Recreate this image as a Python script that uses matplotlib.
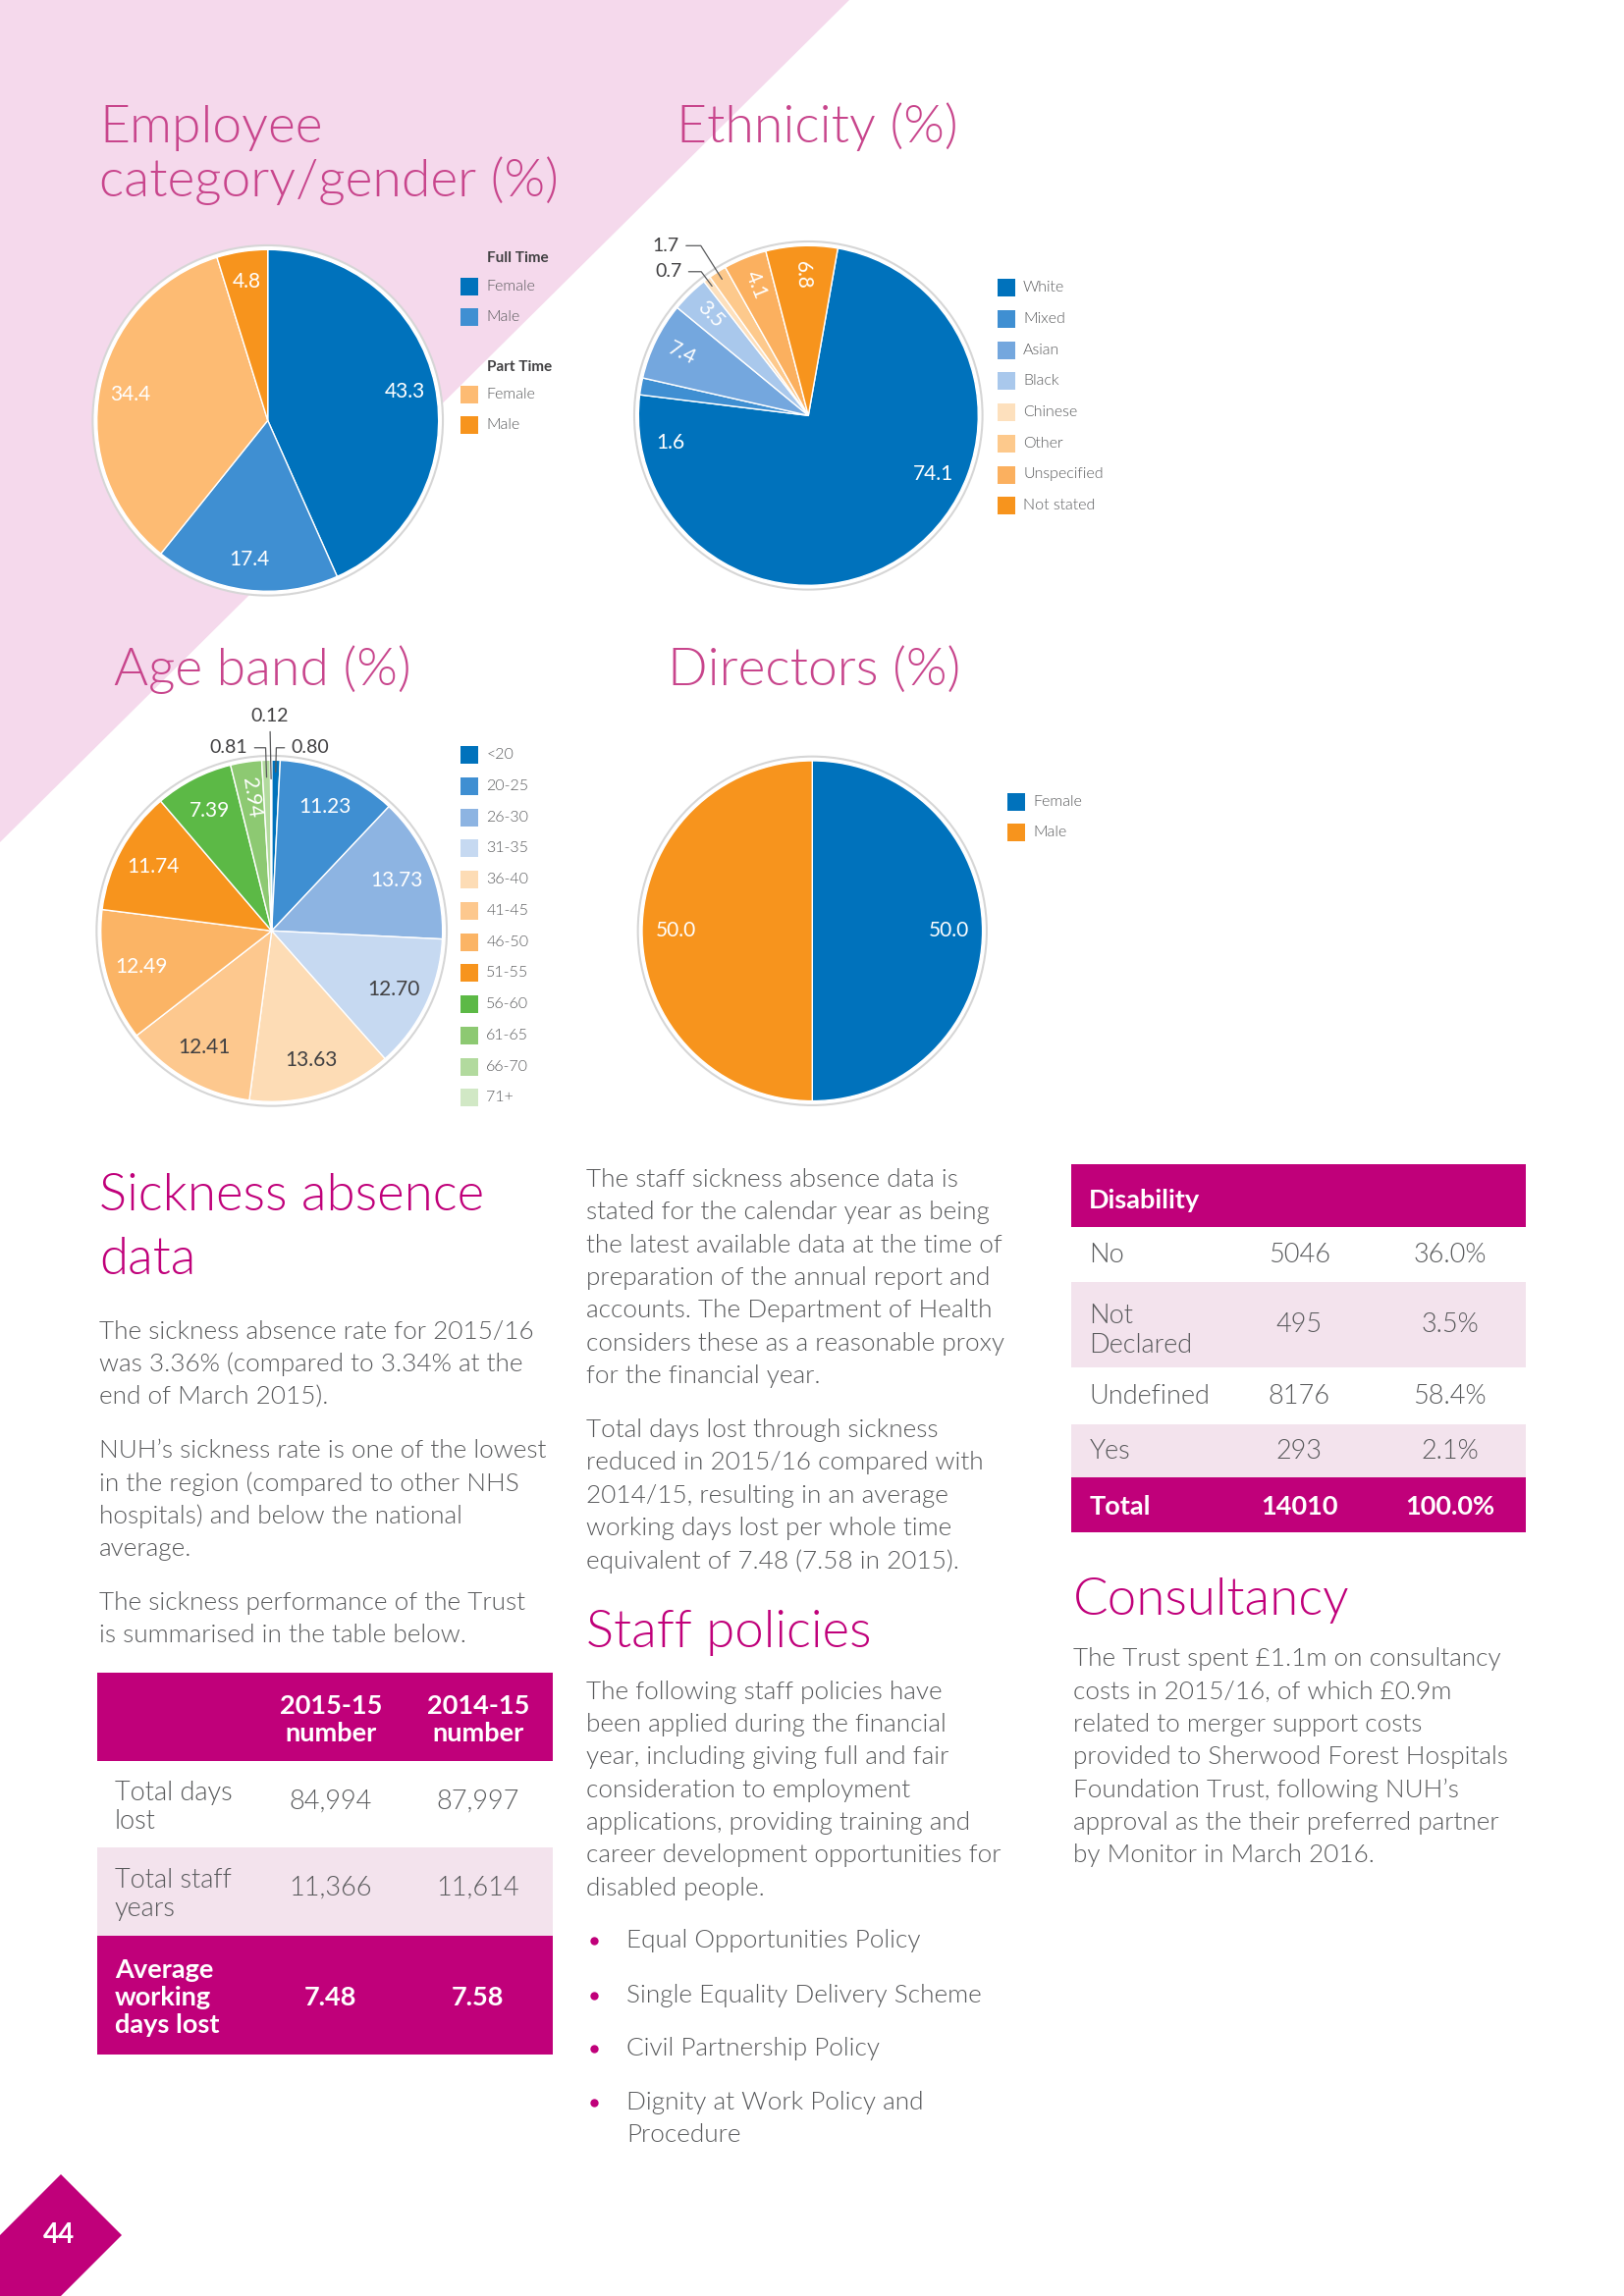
import matplotlib.pyplot as plt
from matplotlib.patches import Polygon, Rectangle, Circle
import numpy as np

plt.rcParams['font.family'] = ['Lato', 'DejaVu Sans']

W, H = 1654, 2339
LIGHT = 300

# ---- chart data ----
emp_groups = ['Full Time', 'Full Time', 'Part Time', 'Part Time']
emp_labels = ['Female', 'Male', 'Female', 'Male']
emp_values = [43.3, 17.4, 34.4, 4.8]

eth_labels = ['White', 'Mixed', 'Asian', 'Black', 'Chinese', 'Other', 'Unspecified', 'Not stated']
eth_values = [74.1, 1.6, 7.4, 3.5, 0.7, 1.7, 4.1, 6.8]

age_labels = ['<20', '20-25', '26-30', '31-35', '36-40', '41-45', '46-50', '51-55',
              '56-60', '61-65', '66-70', '71+']
age_values = [0.80, 11.23, 13.73, 12.70, 13.63, 12.41, 12.49, 11.74, 7.39, 2.94, 0.81, 0.12]

dir_labels = ['Female', 'Male']
dir_values = [50.0, 50.0]

# ---- table data ----
sick_header = ['2015-15\nnumber', '2014-15\nnumber']
sick_rows = ['Total days\nlost', 'Total staff\nyears', 'Average\nworking\ndays lost']
sick_2015 = ['84,994', '11,366', '7.48']
sick_2014 = ['87,997', '11,614', '7.58']

dis_rows = ['No', 'Not\nDeclared', 'Undefined', 'Yes']
dis_counts = [5046, 495, 8176, 293]
dis_pct = [36.0, 3.5, 58.4, 2.1]

# ---- colours ----
BLUE = '#0072bc'
BLUE2 = '#3f8fd2'
MAGENTA = '#c0007a'
TITLE = '#c8458c'
GREY = '#58595b'
DARK = '#414042'
PINK_BG = '#f5d9ec'
ROW_PINK = '#f3e3ed'

emp_colors = [BLUE, BLUE2, '#fdbb73', '#f7941d']
eth_colors = [BLUE, BLUE2, '#74a7de', '#a9c8ec', '#fde0bd', '#fdc98c', '#fbb05f', '#f7941d']
age_colors = [BLUE, BLUE2, '#8db4e2', '#c6d9f1', '#fddcb5', '#fdc88e', '#fbb465', '#f7941d',
              '#5cb946', '#8dc972', '#b2da9e', '#d1e8c5']
dir_colors = [BLUE, '#f7941d']

fig = plt.figure(figsize=(W / 100, H / 100), dpi=100)
page = fig.add_axes([0, 0, 1, 1])
page.set_xlim(0, W)
page.set_ylim(H, 0)
page.axis('off')

# pink corner
page.add_patch(Polygon([(0, 0), (865, 0), (0, 858)], closed=True, facecolor=PINK_BG, lw=0))


def txt(x, y, s, size=18.8, color=GREY, weight=LIGHT, ha='left', va='center', **kw):
    page.text(x, y, s, fontsize=size, color=color, fontweight=weight, ha=ha, va=va, **kw)


def para(x, y0, lines, size=18.8, step=33.4):
    for i, line in enumerate(lines):
        txt(x, y0 + i * step, line, size)


PAD = 1.35


def draw_pie(cx, cy, r, values, colors, start=90):
    ax = fig.add_axes([(cx - PAD * r) / W, 1 - (cy + PAD * r) / H, 2 * PAD * r / W, 2 * PAD * r / H])
    ax.add_patch(Circle((0, 0), 1.025, facecolor='white', edgecolor='#d6d6d6', lw=1.5, zorder=0))
    wedges, _ = ax.pie(values, colors=colors, startangle=start, counterclock=False, radius=1,
                       wedgeprops=dict(edgecolor='white', linewidth=1.0))
    ax.set_xlim(-PAD, PAD)
    ax.set_ylim(-PAD, PAD)
    ax.set_aspect('equal')
    ax.axis('off')
    return ax, wedges


def label_wedges(ax, wedges, texts, colors, r=0.8, rotate=(), override=None, size=15):
    override = override or {}
    for i, (w, s) in enumerate(zip(wedges, texts)):
        if s is None:
            continue
        mid = (w.theta1 + w.theta2) / 2
        ang, rr = override.get(i, (mid, r))
        t = np.deg2rad(ang)
        rot = mid - 180 if i in rotate else 0
        ax.text(rr * np.cos(t), rr * np.sin(t), s, ha='center', va='center', fontsize=size,
                color=colors[i], rotation=rot, rotation_mode='anchor')


def leader(ax, w, s, xytext, ha, r=0.92, straight=False):
    mid = (w.theta1 + w.theta2) / 2
    t = np.deg2rad(mid)
    if straight:
        cs = 'arc3,rad=0'
        rel = (0.5, 0.0)
    else:
        cs = 'angle,angleA=0,angleB=%.2f,rad=0' % mid
        rel = (1, 0.5) if ha == 'right' else (0, 0.5)
    ax.annotate(s, xy=(r * np.cos(t), r * np.sin(t)), xytext=xytext, ha=ha, va='center',
                fontsize=14, color=DARK,
                arrowprops=dict(arrowstyle='-', color=GREY, lw=0.9, shrinkA=3, shrinkB=0,
                                relpos=rel, connectionstyle=cs))


def legend(x_sq, y0, step, labels, colors, size=11.5, sq=18):
    for i, (lab, col) in enumerate(zip(labels, colors)):
        y = y0 + i * step
        page.add_patch(Rectangle((x_sq, y - sq / 2), sq, sq, facecolor=col, lw=0))
        txt(x_sq + sq + 8, y, lab, size)


# ---------------- titles ----------------
txt(101, 145, 'Employee', 38.5, TITLE, va='baseline')
txt(101, 200, 'category/gender (%)', 38.5, TITLE, va='baseline')
txt(689, 145, 'Ethnicity (%)', 38.5, TITLE, va='baseline')
txt(116, 698, 'Age band (%)', 38.5, TITLE, va='baseline')
txt(680, 698, 'Directors (%)', 38.5, TITLE, va='baseline')

# ---------------- employee pie ----------------
ax, wd = draw_pie(272.7, 428.3, 174, emp_values, emp_colors)
label_wedges(ax, wd, ['%.1f' % v for v in emp_values], ['white'] * 4, r=0.82)

y = 263.3
for g in dict.fromkeys(emp_groups):
    txt(496, y, g, 11, DARK, weight='bold')
    y += 28.5
    for lab, col, grp in zip(emp_labels, emp_colors, emp_groups):
        if grp != g:
            continue
        legend(469.3, y, 31, [lab], [col])
        y += 31
    y += 20

# ---------------- ethnicity pie ----------------
ax, wd = draw_pie(823.3, 423.3, 173, eth_values, eth_colors, start=80)
eth_txt = ['%.1f' % v for v in eth_values]
eth_txt[4] = None
eth_txt[5] = None
label_wedges(ax, wd, eth_txt, ['white'] * 8, r=0.83, rotate=(2, 3, 6, 7),
             override={0: (-25, 0.81), 1: (191, 0.83)})
leader(ax, wd[5], '%.1f' % eth_values[5], (-0.76, 1.0), 'right', r=0.95)
leader(ax, wd[4], '%.1f' % eth_values[4], (-0.745, 0.847), 'right', r=0.95)
legend(1016, 293.3, 31.7, eth_labels, eth_colors)

# ---------------- age pie ----------------
ax, wd = draw_pie(276.7, 948.3, 174, age_values, age_colors)
age_txt = ['%.2f' % v for v in age_values]
age_txt[0] = age_txt[10] = age_txt[11] = None
age_col = ['white', 'white', 'white', DARK, DARK, DARK, 'white', 'white', 'white', 'white', 'white', 'white']
label_wedges(ax, wd, age_txt, age_col, r=0.79, rotate=(9,))
leader(ax, wd[10], '%.2f' % age_values[10], (-0.14, 1.072), 'right', r=0.9)
leader(ax, wd[0], '%.2f' % age_values[0], (0.115, 1.072), 'left', r=0.93)
leader(ax, wd[11], '%.2f' % age_values[11], (-0.01, 1.255), 'center', r=0.89, straight=True)
legend(469.3, 769, 31.77, age_labels, age_colors)

# ---------------- directors pie ----------------
ax, wd = draw_pie(827.3, 948.3, 173.3, dir_values, dir_colors)
label_wedges(ax, wd, ['%.1f' % v for v in dir_values], ['white'] * 2, r=0.8)
legend(1026, 816.7, 31.6, dir_labels, dir_colors)

# ---------------- column 1 ----------------
txt(101, 1233, 'Sickness absence', 38, MAGENTA, va='baseline')
txt(101, 1298, 'data', 38, MAGENTA, va='baseline')
para(101, 1356.7, ['The sickness absence rate for 2015/16',
                   'was 3.36% (compared to 3.34% at the',
                   'end of March 2015).'])
para(101, 1478, ['NUH\u2019s sickness rate is one of the lowest',
                 'in the region (compared to other NHS',
                 'hospitals) and below the national',
                 'average.'])
para(101, 1633, ['The sickness performance of the Trust',
                 'is summarised in the table below.'])

# sickness table
tx0, tx1 = 99, 562.7
c1, c2 = 336.7, 486.7
page.add_patch(Rectangle((tx0, 1704), tx1 - tx0, 90, facecolor=MAGENTA, lw=0))
page.add_patch(Rectangle((tx0, 1794), tx1 - tx0, 88, facecolor='white', lw=0))
page.add_patch(Rectangle((tx0, 1882), tx1 - tx0, 90, facecolor=ROW_PINK, lw=0))
page.add_patch(Rectangle((tx0, 1972), tx1 - tx0, 121, facecolor=MAGENTA, lw=0))
txt(c1, 1751.5, sick_header[0], 19.5, 'white', 'bold', ha='center', linespacing=1.2)
txt(c2, 1751.5, sick_header[1], 19.5, 'white', 'bold', ha='center', linespacing=1.2)
row_y = [(1841, 1835), (1930, 1923), (2035, 2035)]
for i, (lab, a, b) in enumerate(zip(sick_rows, sick_2015, sick_2014)):
    last = i == len(sick_rows) - 1
    col = 'white' if last else GREY
    wt = 'bold' if last else LIGHT
    txt(116.7, row_y[i][0], lab, 19.5, col, wt, linespacing=1.2)
    txt(c1, row_y[i][1], a, 19.5, col, wt, ha='center')
    txt(c2, row_y[i][1], b, 19.5, col, wt, ha='center')

# ---------------- column 2 ----------------
para(597, 1201.7, ['The staff sickness absence data is',
                   'stated for the calendar year as being',
                   'the latest available data at the time of',
                   'preparation of the annual report and',
                   'accounts. The Department of Health',
                   'considers these as a reasonable proxy',
                   'for the financial year.'])
para(597, 1456.7, ['Total days lost through sickness',
                   'reduced in 2015/16 compared with',
                   '2014/15, resulting in an average',
                   'working days lost per whole time',
                   'equivalent of 7.48 (7.58 in 2015).'])
txt(597, 1678, 'Staff policies', 38, MAGENTA, va='baseline')
para(597, 1723.5, ['The following staff policies have',
                   'been applied during the financial',
                   'year, including giving full and fair',
                   'consideration to employment',
                   'applications, providing training and',
                   'career development opportunities for',
                   'disabled people.'])
bullets = [['Equal Opportunities Policy'], ['Single Equality Delivery Scheme'],
           ['Civil Partnership Policy'], ['Dignity at Work Policy and', 'Procedure']]
by = [1977, 2033, 2087, 2141.5]
for b, yy in zip(bullets, by):
    page.plot([605], [yy], 'o', color=MAGENTA, ms=6, mew=0)
    para(638, yy, b)

# ---------------- column 3 ----------------
dx0, dx1 = 1091, 1554.3
d1, d2 = 1323.3, 1476.7
page.add_patch(Rectangle((dx0, 1186), dx1 - dx0, 64, facecolor=MAGENTA, lw=0))
txt(1109.3, 1223.3, 'Disability', 19.5, 'white', 'bold')
bands = [(1250, 1304), (1304, 1393), (1393, 1449), (1449, 1505)]
for i, (lab, n, p) in enumerate(zip(dis_rows, dis_counts, dis_pct)):
    top, bot = bands[i]
    page.add_patch(Rectangle((dx0, top + 1.5), dx1 - dx0, bot - top - 1.5,
                             facecolor='white' if i % 2 == 0 else ROW_PINK, lw=0))
    yc = (top + bot) / 2 + 1
    txt(1109.3, yc + (6 if '\n' in lab else 0), lab, 19.5, linespacing=1.2)
    txt(d1, yc, str(n), 19.5, ha='center')
    txt(d2, yc, '%.1f%%' % p, 19.5, ha='center')
page.add_patch(Rectangle((dx0, 1505), dx1 - dx0, 56, facecolor=MAGENTA, lw=0))
txt(1109.3, 1535, 'Total', 19.5, 'white', 'bold')
txt(d1, 1535, str(sum(dis_counts)), 19.5, 'white', 'bold', ha='center')
txt(d2, 1535, '%.1f%%' % sum(dis_pct), 19.5, 'white', 'bold', ha='center')

txt(1093, 1645, 'Consultancy', 38, MAGENTA, va='baseline')
para(1093, 1690, ['The Trust spent \u00a31.1m on consultancy',
                  'costs in 2015/16, of which \u00a30.9m',
                  'related to merger support costs',
                  'provided to Sherwood Forest Hospitals',
                  'Foundation Trust, following NUH\u2019s',
                  'approval as the their preferred partner',
                  'by Monitor in March 2016.'])

# page number
page.add_patch(Polygon([(0, 2277), (62, 2215), (124, 2277), (62, 2339), (0, 2339)],
                       closed=True, facecolor=MAGENTA, lw=0))
txt(60, 2277, '44', 20, 'white', 'bold', ha='center')

fig.savefig('out.png', dpi=100)
